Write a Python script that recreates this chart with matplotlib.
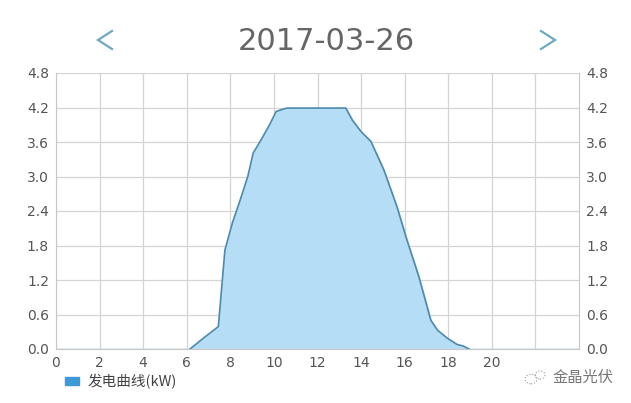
import numpy as np
import matplotlib.pyplot as plt
from matplotlib.lines import Line2D
from matplotlib.patches import Ellipse, Rectangle

plt.rcParams['font.family'] = ['Noto Sans CJK SC', 'DejaVu Sans']

title = '2017-03-26'
legend_label = '发电曲线(kW)'
watermark = '金晶光伏'

# hour of day vs generated power (kW)
hours = [0, 6.15, 6.8, 7.45, 7.75, 8.1, 8.45, 8.8, 9.05, 9.4, 9.8, 10.1,
         10.4, 10.6, 13.3, 13.6, 14.0, 14.45, 15.05, 15.65, 16.1, 16.65,
         17.2, 17.5, 17.95, 18.4, 18.7, 18.95, 24]
power = [0, 0, 0.2, 0.39, 1.72, 2.2, 2.59, 3.0, 3.41, 3.63, 3.9, 4.13,
         4.17, 4.19, 4.19, 3.98, 3.78, 3.61, 3.11, 2.47, 1.9, 1.26,
         0.5, 0.33, 0.19, 0.08, 0.05, 0, 0]

xticks = list(range(0, 24, 2))
xlabels = [str(t) if t <= 20 else '' for t in xticks]
yticks = np.round(np.arange(0, 4.81, 0.6), 1)

fig = plt.figure(figsize=(6.31, 4.03), dpi=100)
ax = fig.add_axes([56 / 631, 54 / 403, 523 / 631, 276 / 403])

ax.fill_between(hours, power, color='#b6ddf6', zorder=2)
ax.plot(hours[1:-1], power[1:-1], color='#4f8aab', lw=1.2, zorder=3)

ax.set_xlim(0, 24)
ax.set_ylim(0, 4.8)
ax.set_xticks(xticks)
ax.set_xticklabels(xlabels)
ax.set_yticks(yticks)
ax.set_yticklabels([f'{v:.1f}' for v in yticks])
ax.grid(True, color='#d4d4d4', lw=0.9, zorder=1)
ax.tick_params(length=0, labelsize=10, colors='#555555', labelright=True,
               pad=5)
for lab in ax.get_xticklabels():
    lab.set_family('DejaVu Sans')
for t in ax.yaxis.get_major_ticks():
    t.label1.set_family('DejaVu Sans')
    t.label2.set_family('DejaVu Sans')
for spine in ['top', 'right', 'left', 'bottom']:
    ax.spines[spine].set_color('#c8c8c8')
ax.spines['top'].set_visible(False)

fig.text(326 / 631, 1 - 41 / 403, title, ha='center', va='center',
         fontsize=22, color='#666666', family='DejaVu Sans')

# nav chevrons, drawn as thin lines
for tip, back in [(98, 112), (555, 541)]:
    fig.add_artist(Line2D([back / 631, tip / 631, back / 631],
                          [1 - 31 / 403, 1 - 40 / 403, 1 - 49 / 403],
                          transform=fig.transFigure, color='#6fa9c0',
                          lw=1.6, solid_joinstyle='miter'))

# legend
fig.patches.append(Rectangle((65 / 631, 1 - 385 / 403), 14 / 631, 8 / 403,
                             transform=fig.transFigure, color='#3d9ad8'))
fig.text(88 / 631, 1 - 382 / 403, legend_label, ha='left', va='center',
         fontsize=10.5, color='#444444')

# watermark
for cx, cy, w in [(531, 379, 12), (540, 375, 10)]:
    fig.patches.append(Ellipse((cx / 631, 1 - cy / 403), w / 631, w * 0.8 / 403,
                               transform=fig.transFigure, fill=False,
                               ec='#9a9a9a', lw=0.8, ls=':'))
fig.text(553 / 631, 1 - 377 / 403, watermark, ha='left', va='center',
         fontsize=11, color='#777777')

fig.savefig('out.png', dpi=100)
